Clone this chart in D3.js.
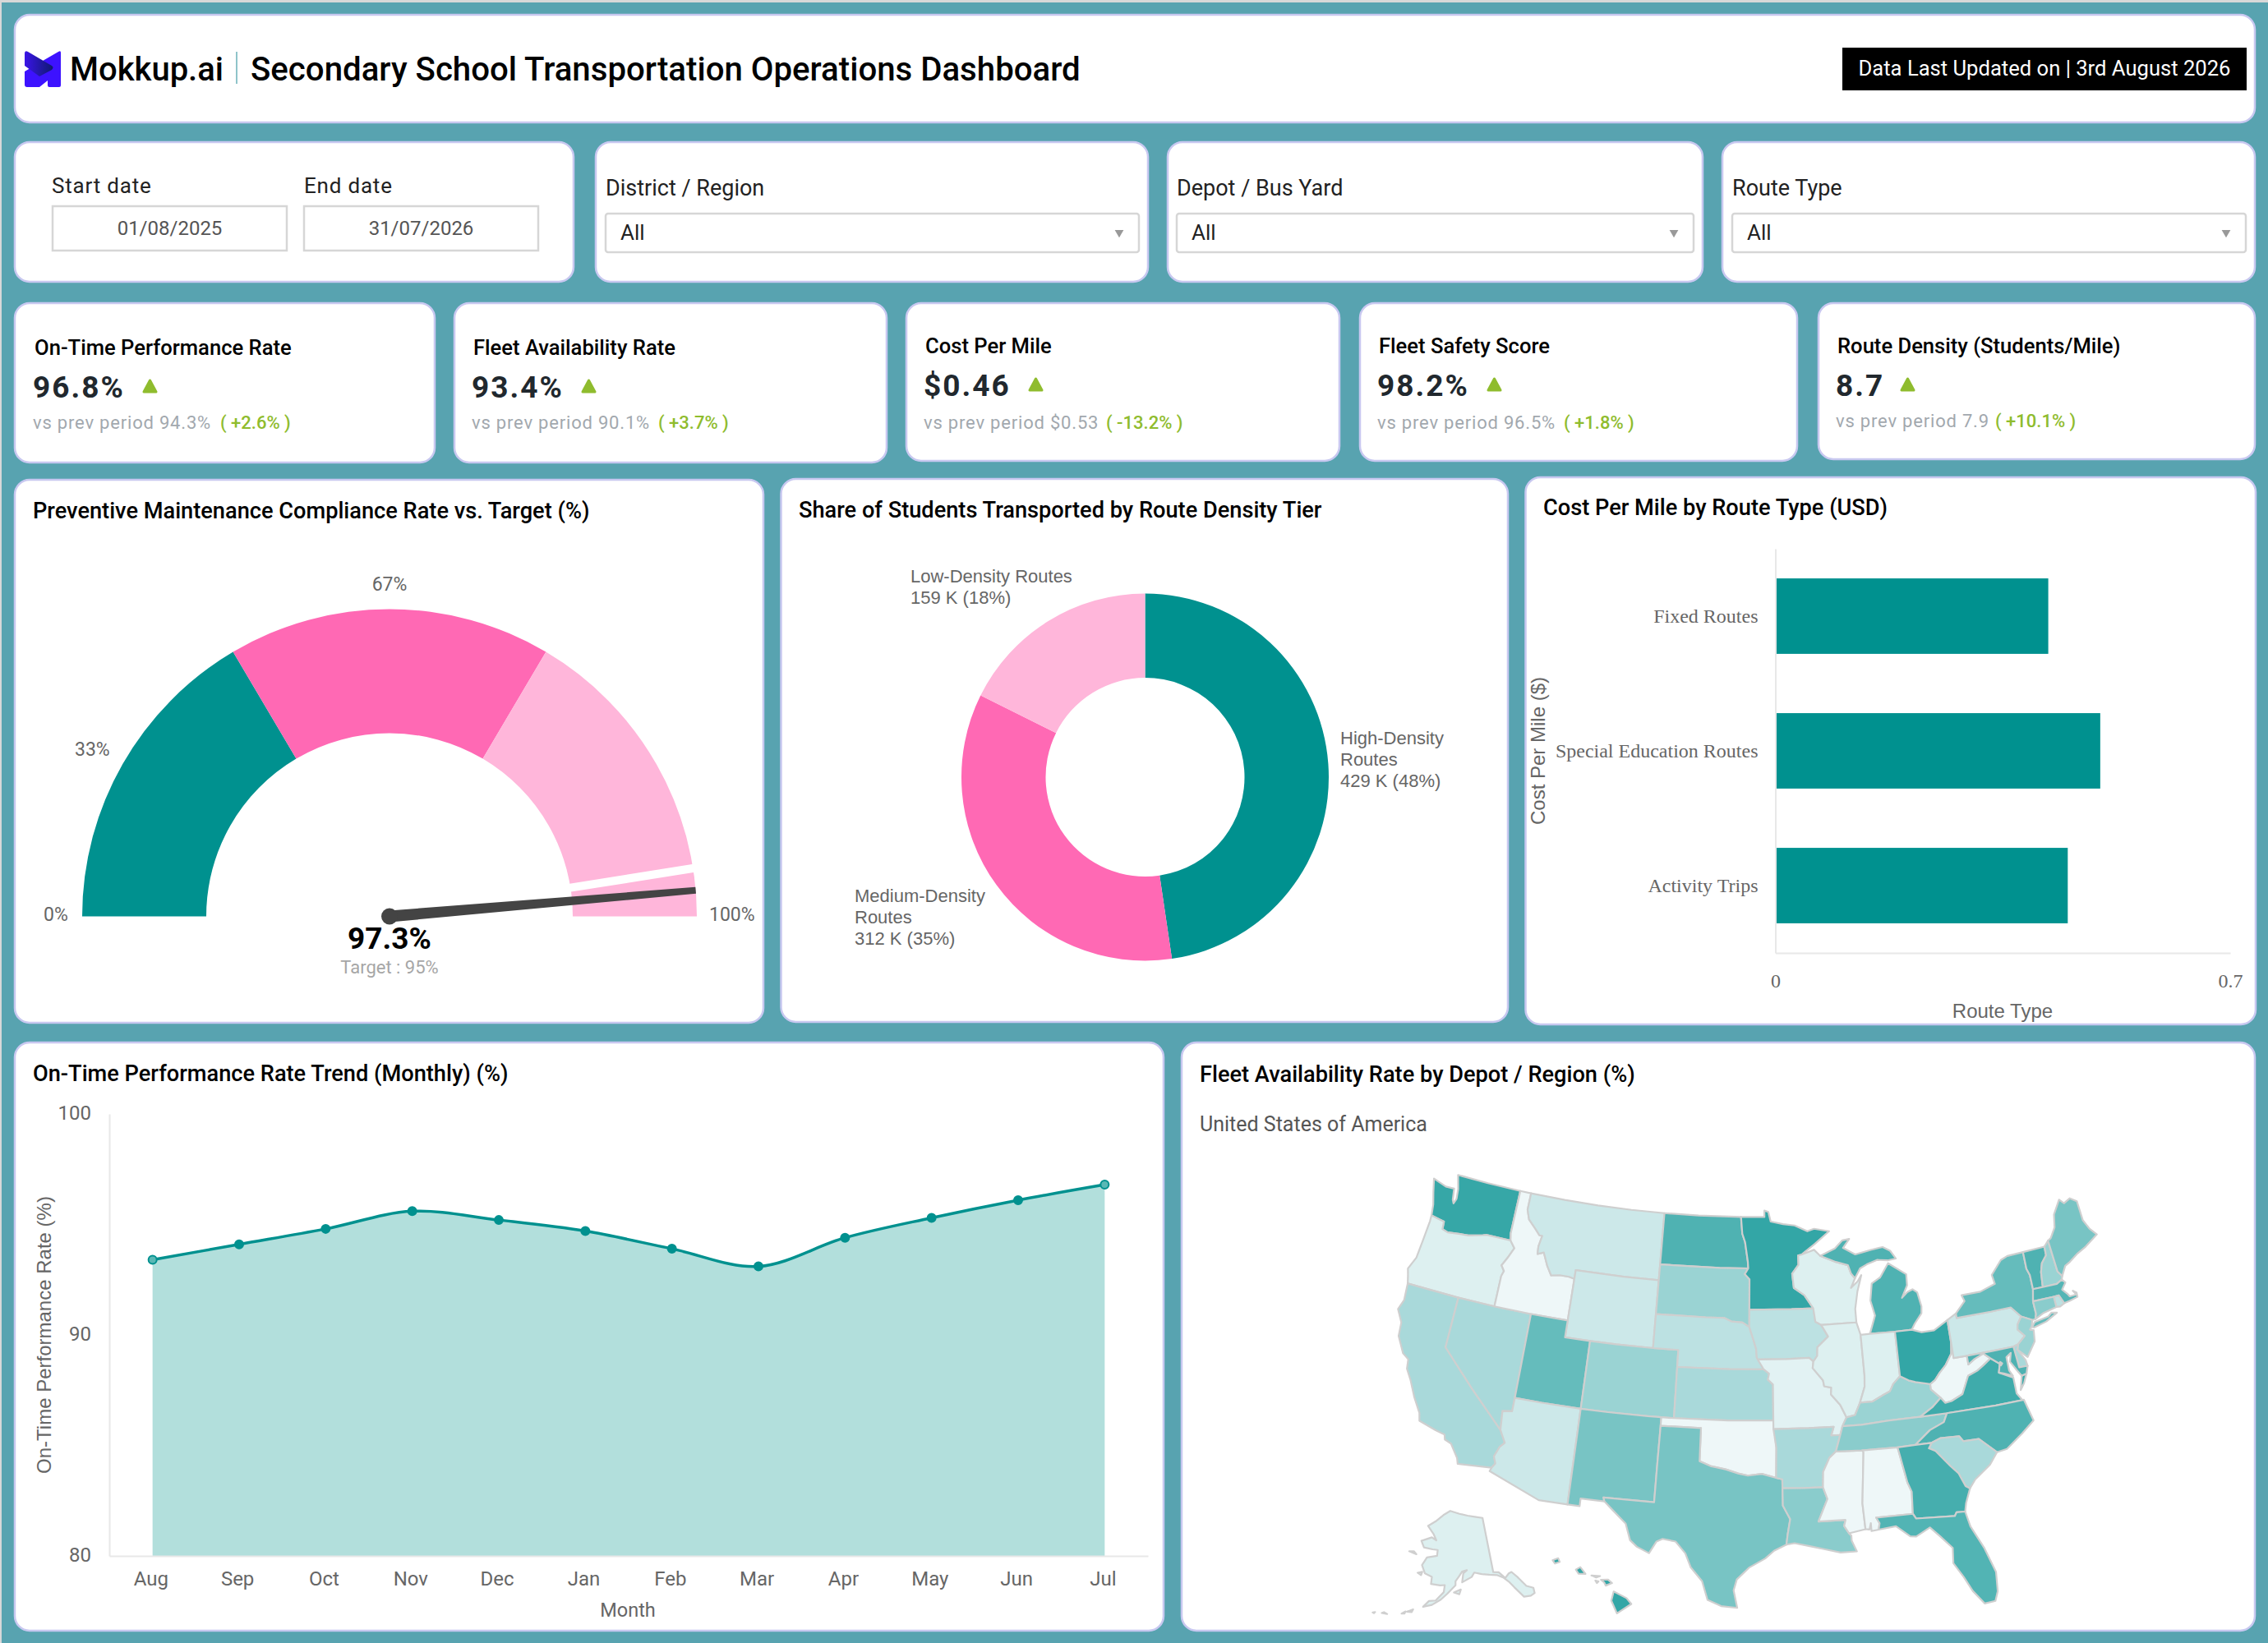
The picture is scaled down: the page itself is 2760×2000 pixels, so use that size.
<!DOCTYPE html>
<html>
<head>
<meta charset="utf-8">
<title>Secondary School Transportation Operations Dashboard</title>
<script src="https://cdn.jsdelivr.net/npm/d3@7/dist/d3.min.js"></script>
<style>
html, body { margin: 0; padding: 0; background: #d8d8d8; }
svg { display: block; }
text { font-family: Roboto, sans-serif; dominant-baseline: central; }
.cardTitle { font-size: 27.2px; font-weight: 500; fill: #000; }
.label { font-family: "Liberation Sans", Arial, sans-serif; font-size: 22px; fill: #666; }
.axisTitle { font-family: "Liberation Sans", Arial, sans-serif; font-size: 24px; fill: #666; }
.axis .domain { stroke: #e8e8e8; stroke-width: 2px; }
.axis text { font-size: 24px; fill: #666; dominant-baseline: auto; }
</style>
</head>
<body>
<svg id="board" width="2760" height="2000"></svg>
<script>
// ---- chart values ----
var filterLabels = ["District / Region", "Depot / Bus Yard", "Route Type"];
var dateLabels = ["Start date", "End date"];
var dateValues = ["01/08/2025", "31/07/2026"];

var kpiTitles = ["On-Time Performance Rate", "Fleet Availability Rate", "Cost Per Mile", "Fleet Safety Score", "Route Density (Students/Mile)"];
var kpiValues = ["96.8%", "93.4%", "$0.46", "98.2%", "8.7"];
var kpiPrev = ["94.3%", "90.1%", "$0.53", "96.5%", "7.9"];
var kpiChange = ["+2.6%", "+3.7%", "-13.2%", "+1.8%", "+10.1%"];

var gaugeBands = [0, 33, 67, 100];
var gaugeTicks = ["0%", "33%", "67%", "100%"];
var gaugeActual = 97.3;
var gaugeTarget = 95;

var densityTiers = ["High-Density Routes", "Medium-Density Routes", "Low-Density Routes"];
var densityStudents = [429, 312, 159];
var densityShares = ["429 K (48%)", "312 K (35%)", "159 K (18%)"];

var routeTypes = ["Fixed Routes", "Special Education Routes", "Activity Trips"];
var routeCost = [0.42, 0.5, 0.45];

var months = ["Aug", "Sep", "Oct", "Nov", "Dec", "Jan", "Feb", "Mar", "Apr", "May", "Jun", "Jul"];
var onTimeRate = [93.4, 94.1, 94.8, 95.6, 95.2, 94.7, 93.9, 93.1, 94.4, 95.3, 96.1, 96.8];

var stateCodes = ["WA", "OR", "CA", "NV", "ID", "MT", "WY", "UT", "AZ", "CO", "NM", "ND", "SD", "NE", "KS", "OK", "TX",
    "MN", "IA", "MO", "AR", "LA", "WI", "IL", "MS", "MI", "IN", "KY", "TN", "AL", "OH", "WV", "VA", "NC", "SC", "GA", "FL",
    "PA", "NY", "VT", "NH", "ME", "MA", "RI", "CT", "NJ", "DE", "MD", "DC", "AK", "HI"];
var stateRates = [95.9, 90.55, 92.2, 92.2, 90.0, 91.1, 91.1, 94.4, 91.1, 92.7, 93.8, 95.1, 92.7, 91.6, 92.2, 90.0, 93.8,
    96.0, 91.6, 90.4, 92.2, 93.2, 90.55, 90.55, 90.0, 95.1, 90.55, 92.7, 93.2, 90.0, 96.0, 90.0, 95.6, 95.1, 92.2, 95.4, 95.0,
    91.1, 94.4, 95.1, 92.7, 93.8, 94.9, 91.6, 93.2, 92.7, 92.2, 95.1, 95.1, 90.55, 96.0];

// lon/lat outlines of the states, one list of rings per state
var stateShapes = {
    WA: [[[-124.7,48.38],[-123.5,48.13],[-122.75,48.15],[-122.6,47.5],[-122.45,47.3],[-122.3,47.6],[-122.4,48.2],[-122.75,49],[-120,49],[-117.03,49],[-117.04,46.42],[-116.92,46],[-118.98,46],[-119.3,45.93],[-120.5,45.7],[-121.2,45.65],[-122.25,45.55],[-122.75,45.65],[-122.8,46.1],[-123.2,46.15],[-123.97,46.25],[-124.1,46.9],[-124.4,47.6]]],
    OR: [[[-123.97,46.25],[-123.2,46.15],[-122.8,46.1],[-122.75,45.65],[-122.25,45.55],[-121.2,45.65],[-120.5,45.7],[-119.3,45.93],[-118.98,46],[-116.92,46],[-116.46,45.6],[-116.85,44.95],[-117.2,44.45],[-116.9,44.15],[-117.03,43.83],[-117.03,42],[-120,42],[-124.21,42],[-124.4,42.5],[-124.55,42.84],[-124.15,43.6],[-124.05,44.7],[-123.95,45.9]]],
    CA: [[[-124.21,42],[-120,42],[-120,39],[-117.3,37],[-114.63,35],[-114.14,34.3],[-114.45,34],[-114.72,33.4],[-114.52,33],[-114.72,32.72],[-117.12,32.53],[-117.25,32.85],[-117.9,33.6],[-118.4,33.75],[-118.5,34.03],[-119.2,34.15],[-120.5,34.45],[-120.65,34.9],[-121.3,35.7],[-121.9,36.6],[-122.4,37.2],[-122.5,37.75],[-123,38],[-123.7,38.9],[-123.8,39.7],[-124.35,40.4],[-124.1,41]]],
    NV: [[[-120,42],[-117.03,42],[-114.04,42],[-114.04,39],[-114.04,37],[-114.05,36.2],[-114.75,36.1],[-114.63,35],[-117.3,37],[-120,39]]],
    ID: [[[-117.03,49],[-116.05,49],[-116.05,48],[-115.75,47.45],[-115,46.95],[-114.6,46.65],[-114.35,46.65],[-114.5,46],[-114.45,45.55],[-113.95,45.7],[-113.45,44.95],[-113,44.45],[-112.3,44.55],[-111.5,44.55],[-111.05,44.48],[-111.05,42],[-114.04,42],[-117.03,42],[-117.03,43.83],[-116.9,44.15],[-117.2,44.45],[-116.85,44.95],[-116.46,45.6],[-116.92,46],[-117.04,46.42]]],
    MT: [[[-116.05,49],[-113,49],[-110,49],[-107,49],[-104.05,49],[-104.05,47],[-104.05,45],[-107,45],[-111.05,45],[-111.05,44.48],[-111.5,44.55],[-112.3,44.55],[-113,44.45],[-113.45,44.95],[-113.95,45.7],[-114.45,45.55],[-114.5,46],[-114.35,46.65],[-114.6,46.65],[-115,46.95],[-115.75,47.45],[-116.05,48]]],
    WY: [[[-111.05,45],[-107,45],[-104.05,45],[-104.05,43],[-104.05,41],[-107,41],[-109.05,41],[-111.05,41],[-111.05,42],[-111.05,44.48]]],
    UT: [[[-114.04,42],[-111.05,42],[-111.05,41],[-109.05,41],[-109.05,39],[-109.05,37],[-112,37],[-114.04,37],[-114.04,39]]],
    AZ: [[[-114.04,37],[-112,37],[-109.05,37],[-109.05,34],[-109.05,31.33],[-111.07,31.33],[-114.81,32.5],[-114.72,32.72],[-114.52,33],[-114.72,33.4],[-114.45,34],[-114.14,34.3],[-114.63,35],[-114.75,36.1],[-114.05,36.2]]],
    CO: [[[-109.05,41],[-107,41],[-104.05,41],[-102.05,41],[-102.05,39],[-102.05,37],[-104,37],[-107,37],[-109.05,37],[-109.05,39]]],
    NM: [[[-109.05,37],[-107,37],[-104,37],[-103,37],[-103,36.5],[-103.04,34],[-103.06,32],[-106.62,32],[-106.53,31.78],[-108.2,31.78],[-108.2,31.33],[-109.05,31.33],[-109.05,34]]],
    ND: [[[-104.05,49],[-101,49],[-97.23,49],[-97.1,48],[-96.85,47.5],[-96.6,46.35],[-96.56,45.94],[-99,45.94],[-104.05,45.94],[-104.05,47]]],
    SD: [[[-104.05,45.94],[-99,45.94],[-96.56,45.94],[-96.85,45.6],[-96.45,45.3],[-96.45,43.5],[-96.45,42.49],[-97,42.75],[-97.9,42.8],[-98.5,43],[-100,43],[-104.05,43],[-104.05,45]]],
    NE: [[[-104.05,43],[-100,43],[-98.5,43],[-97.9,42.8],[-97,42.75],[-96.45,42.49],[-96.1,41.7],[-95.9,41.2],[-95.85,40.7],[-95.31,40],[-98,40],[-102.05,40],[-102.05,41],[-104.05,41]]],
    KS: [[[-102.05,40],[-98,40],[-95.31,40],[-94.9,39.75],[-95,39.4],[-94.61,39.11],[-94.62,37],[-98,37],[-102.05,37],[-102.05,39]]],
    OK: [[[-103,37],[-102.05,37],[-98,37],[-94.62,37],[-94.43,35.4],[-94.48,33.64],[-95.5,33.88],[-96.5,33.78],[-97.2,33.9],[-98.1,34.13],[-99.2,34.3],[-100,34.56],[-100,36.5],[-103,36.5]]],
    TX: [[[-103,36.5],[-100,36.5],[-100,34.56],[-99.2,34.3],[-98.1,34.13],[-97.2,33.9],[-96.5,33.78],[-95.5,33.88],[-94.48,33.64],[-94.04,33.55],[-94.04,33.02],[-94.04,32],[-93.55,31.2],[-93.75,30.3],[-93.85,29.7],[-94.7,29.35],[-95.3,28.9],[-96.4,28.35],[-97.2,27.65],[-97.4,27],[-97.15,25.96],[-98.2,26.05],[-99.1,26.4],[-99.5,27.5],[-100.3,28.3],[-100.7,29.1],[-101.4,29.77],[-102.3,29.88],[-102.7,29.7],[-103.15,28.98],[-104,29.3],[-104.5,29.65],[-104.9,30.6],[-106,31.4],[-106.53,31.78],[-106.62,32],[-103.06,32],[-103.04,34]]],
    MN: [[[-97.23,49],[-95.15,49],[-95.15,49.38],[-94.8,49.3],[-94.6,48.72],[-93.5,48.55],[-92.5,48.45],[-91.4,48.07],[-90.8,48.2],[-89.5,48],[-90.8,47.3],[-92,46.7],[-92.29,46.66],[-92.29,46.1],[-92.85,45.6],[-92.75,44.75],[-91.9,44.3],[-91.22,43.5],[-93,43.5],[-96.45,43.5],[-96.45,45.3],[-96.85,45.6],[-96.56,45.94],[-96.6,46.35],[-96.85,47.5],[-97.1,48]]],
    IA: [[[-96.45,43.5],[-93,43.5],[-91.22,43.5],[-91.1,42.7],[-90.65,42.5],[-90.15,41.8],[-91.05,41.2],[-91.1,40.7],[-91.42,40.38],[-91.73,40.61],[-93.5,40.58],[-95.77,40.58],[-95.85,40.7],[-95.9,41.2],[-96.1,41.7],[-96.45,42.49]]],
    MO: [[[-95.77,40.58],[-93.5,40.58],[-91.73,40.61],[-91.42,40.38],[-91.5,40],[-90.75,39.25],[-90.68,38.9],[-90.15,38.8],[-90.2,38.4],[-89.55,37.75],[-89.15,37],[-89.5,36.5],[-89.7,36],[-90.37,36],[-90.15,36.5],[-92,36.5],[-94.62,36.5],[-94.62,37],[-94.61,39.11],[-95,39.4],[-94.9,39.75],[-95.31,40]]],
    AR: [[[-94.62,36.5],[-92,36.5],[-90.15,36.5],[-90.37,36],[-89.7,36],[-90.1,35.05],[-90.6,34.7],[-91.1,33.9],[-91.17,33],[-92.5,33],[-94.04,33.02],[-94.04,33.55],[-94.48,33.64],[-94.43,35.4]]],
    LA: [[[-94.04,33.02],[-92.5,33],[-91.17,33],[-90.9,32.3],[-91.6,31],[-89.73,31],[-89.85,30.65],[-89.55,30.2],[-89.4,30.05],[-89.4,29.75],[-89.1,29.1],[-90.2,29.1],[-91.3,29.35],[-92.2,29.55],[-93.3,29.77],[-93.85,29.7],[-93.75,30.3],[-93.55,31.2],[-94.04,32]]],
    WI: [[[-92.29,46.66],[-92,46.7],[-90.9,46.95],[-90.4,46.57],[-89.1,46.15],[-88.1,45.9],[-87.9,45.4],[-87.6,45.1],[-88,44.55],[-87.4,44.9],[-87.05,45.25],[-87.5,44.3],[-87.8,43.3],[-87.8,42.5],[-90.65,42.5],[-91.1,42.7],[-91.22,43.5],[-91.9,44.3],[-92.75,44.75],[-92.85,45.6],[-92.29,46.1]]],
    IL: [[[-90.65,42.5],[-87.8,42.5],[-87.55,41.75],[-87.53,39.35],[-87.6,38.7],[-88.05,37.8],[-88.5,37.1],[-89.15,37],[-89.55,37.75],[-90.2,38.4],[-90.15,38.8],[-90.68,38.9],[-90.75,39.25],[-91.5,40],[-91.42,40.38],[-91.1,40.7],[-91.05,41.2],[-90.15,41.8]]],
    MS: [[[-90.1,35.05],[-88.2,35],[-88.1,34.9],[-88.47,31.9],[-88.4,30.37],[-89.55,30.2],[-89.85,30.65],[-89.73,31],[-91.6,31],[-90.9,32.3],[-91.17,33],[-91.1,33.9],[-90.6,34.7]]],
    MI: [[[-86.8,41.76],[-84.8,41.73],[-83.45,41.72],[-83.15,42.05],[-82.5,42.6],[-82.42,43],[-82.6,43.85],[-82.95,44.07],[-83.4,43.95],[-83.9,43.65],[-83.35,44.35],[-83.3,45],[-84.7,45.78],[-85.5,45],[-86.25,44.7],[-86.5,43.7],[-86.25,42.8]],
        [[-90.4,46.57],[-89.1,46.95],[-88.4,47.4],[-87.8,47.45],[-88.4,46.95],[-87.4,46.5],[-86.1,46.67],[-85,46.77],[-84.4,46.5],[-84,46],[-84.7,45.95],[-85.6,46.05],[-86.5,45.85],[-87.1,45.65],[-87.6,45.1],[-87.9,45.4],[-88.1,45.9],[-89.1,46.15]]],
    IN: [[[-87.55,41.75],[-86.8,41.76],[-84.8,41.73],[-84.82,39.1],[-85.4,38.7],[-85.7,38.3],[-86.3,38.1],[-87.1,37.8],[-88.05,37.8],[-87.6,38.7],[-87.53,39.35]]],
    KY: [[[-89.5,36.5],[-89.15,37],[-88.5,37.1],[-88.05,37.8],[-87.1,37.8],[-86.3,38.1],[-85.7,38.3],[-85.4,38.7],[-84.82,39.1],[-84.2,38.8],[-83.7,38.65],[-82.6,38.42],[-82.6,38.1],[-81.97,37.54],[-82.7,37.05],[-83.68,36.6],[-86,36.6],[-88.07,36.5]]],
    TN: [[[-89.5,36.5],[-88.07,36.5],[-86,36.6],[-83.68,36.6],[-81.68,36.59],[-82,36.1],[-83.1,35.75],[-84.3,35],[-85.6,34.98],[-88.2,35],[-90.1,35.05],[-89.7,36]]],
    AL: [[[-88.2,35],[-85.6,34.98],[-85.18,32.87],[-84.95,32.3],[-85.05,31],[-87.6,31],[-87.4,30.65],[-87.5,30.28],[-88,30.23],[-88,30.7],[-88.13,30.33],[-88.4,30.37],[-88.47,31.9],[-88.1,34.9]]],
    OH: [[[-84.8,41.73],[-83.45,41.72],[-82.7,41.5],[-81.7,41.5],[-80.52,41.98],[-80.52,40.64],[-80.65,40],[-81.2,39.4],[-81.75,39],[-82.2,38.6],[-82.6,38.42],[-83.7,38.65],[-84.2,38.8],[-84.82,39.1]]],
    WV: [[[-80.52,40.64],[-80.52,39.72],[-79.48,39.72],[-79.48,39.2],[-78.95,39.45],[-78.2,39.68],[-77.72,39.32],[-78.35,39],[-78.9,38.75],[-79.65,38.55],[-80.3,37.55],[-81.2,37.25],[-81.68,37.2],[-81.97,37.54],[-82.6,38.1],[-82.6,38.42],[-82.2,38.6],[-81.75,39],[-81.2,39.4],[-80.65,40]]],
    VA: [[[-83.68,36.6],[-82.7,37.05],[-81.97,37.54],[-81.68,37.2],[-81.2,37.25],[-80.3,37.55],[-79.65,38.55],[-78.9,38.75],[-78.35,39],[-77.72,39.32],[-77.1,38.9],[-77.3,38.4],[-76.3,37.95],[-76.3,37],[-75.98,36.55],[-78,36.55],[-81.68,36.59]],
        [[-75.95,37.15],[-75.65,37.95],[-75.25,38.03],[-75.6,37.5]]],
    NC: [[[-84.3,35],[-83.1,35.75],[-82,36.1],[-81.68,36.59],[-78,36.55],[-75.87,36.55],[-75.5,35.25],[-76.5,34.65],[-77.8,33.93],[-78.55,33.85],[-79.67,34.8],[-80.8,34.82],[-81.05,35.15],[-82.4,35.2],[-83.1,35]]],
    SC: [[[-83.1,35],[-82.4,35.2],[-81.05,35.15],[-80.8,34.82],[-79.67,34.8],[-78.55,33.85],[-79.2,33.2],[-80.4,32.5],[-80.87,32.03],[-81.15,32.2],[-81.5,33],[-82,33.5],[-82.9,34.5],[-83.35,34.7]]],
    GA: [[[-85.6,34.98],[-84.3,35],[-83.1,35],[-83.35,34.7],[-82.9,34.5],[-82,33.5],[-81.5,33],[-81.15,32.2],[-80.87,32.03],[-81.3,31.2],[-81.45,30.72],[-82.05,30.75],[-82.2,30.55],[-84.86,30.7],[-85.05,31],[-84.95,32.3],[-85.18,32.87]]],
    FL: [[[-87.6,31],[-85.05,31],[-84.86,30.7],[-82.2,30.55],[-82.05,30.75],[-81.45,30.72],[-81.25,29.8],[-80.55,28.4],[-80.05,26.9],[-80.15,25.75],[-80.4,25.2],[-81.1,25.15],[-81.75,26],[-82.2,26.9],[-82.75,27.8],[-82.65,28.7],[-83.4,29.5],[-84,30.08],[-85,29.65],[-85.4,29.7],[-86.3,30.38],[-87.5,30.28],[-87.4,30.65]]],
    PA: [[[-80.52,41.98],[-79.76,42.27],[-79.76,42],[-77,42],[-75.35,42],[-74.7,41.35],[-75.1,40.95],[-75.2,40.65],[-74.75,40.2],[-75.4,39.8],[-75.8,39.72],[-77.5,39.72],[-79.48,39.72],[-80.52,39.72],[-80.52,40.64]]],
    NY: [[[-79.76,42.27],[-78.9,42.9],[-79.05,43.27],[-77.5,43.27],[-76.2,43.55],[-76.3,44.1],[-75.3,44.85],[-74.7,45],[-73.35,45.01],[-73.4,44],[-73.25,43.6],[-73.27,42.75],[-73.5,42.05],[-73.5,41.3],[-73.65,41],[-73.9,41],[-74.7,41.35],[-75.35,42],[-77,42],[-79.76,42]],
        [[-74.03,40.6],[-73.75,40.85],[-72.6,40.98],[-72.3,41.15],[-71.87,41.07],[-72.85,40.72],[-73.9,40.55]]],
    VT: [[[-73.35,45.01],[-71.5,45.01],[-71.55,44.5],[-72.05,44.1],[-72.3,43.6],[-72.46,42.73],[-73.27,42.75],[-73.25,43.6],[-73.4,44]]],
    NH: [[[-71.5,45.01],[-71.08,45.3],[-70.98,43.4],[-70.7,43.07],[-70.82,42.87],[-71.3,42.7],[-72.46,42.73],[-72.3,43.6],[-72.05,44.1],[-71.55,44.5]]],
    ME: [[[-71.08,45.3],[-70.8,45.4],[-70.25,45.95],[-70,46.7],[-69.23,47.46],[-68.9,47.18],[-68.3,47.36],[-67.79,47.07],[-67.78,45.9],[-67.45,45.3],[-67,44.85],[-68.2,44.35],[-69,44.1],[-69.8,43.75],[-70.25,43.6],[-70.7,43.07],[-70.98,43.4]]],
    MA: [[[-73.5,42.05],[-73.27,42.75],[-72.46,42.73],[-71.3,42.7],[-70.82,42.87],[-70.6,42.65],[-71,42.3],[-70.65,41.95],[-70.55,41.8],[-70,41.8],[-70.2,42.07],[-69.95,41.9],[-69.97,41.65],[-70.65,41.55],[-71.12,41.5],[-71.38,42.02],[-71.8,42.02]]],
    RI: [[[-71.8,42.02],[-71.38,42.02],[-71.12,41.5],[-71.5,41.37],[-71.8,41.4]]],
    CT: [[[-73.5,42.05],[-71.8,42.02],[-71.8,41.4],[-72.9,41.25],[-73.65,41],[-73.5,41.3]]],
    NJ: [[[-74.7,41.35],[-73.9,41],[-74.05,40.65],[-74.25,40.48],[-73.98,40.4],[-74.1,39.75],[-74.9,38.95],[-75.55,39.5],[-75.4,39.8],[-74.75,40.2],[-75.2,40.65],[-75.1,40.95]]],
    DE: [[[-75.8,39.72],[-75.4,39.8],[-75.55,39.5],[-75.1,38.8],[-75.05,38.45],[-75.7,38.46]]],
    MD: [[[-79.48,39.72],[-77.5,39.72],[-75.8,39.72],[-75.7,38.46],[-75.05,38.45],[-75.25,38.03],[-75.65,37.95],[-75.9,38.3],[-76.3,38.9],[-76.1,39.4],[-76.5,39.2],[-76.5,38.4],[-76.3,38.05],[-76.95,38.3],[-77.3,38.4],[-77.1,38.9],[-77.72,39.32],[-78.2,39.68],[-78.95,39.45],[-79.48,39.2]]],
    DC: [[[-77.12,38.93],[-77.04,39],[-76.91,38.89],[-77.04,38.79]]],
    AK: [[[-141,69.65],[-141,60.3],[-139.2,60.1],[-137.5,58.9],[-136,59.5],[-135,59.6],[-133.5,58.4],[-131.8,56.6],[-130,55.9],[-130.2,55],[-131.5,54.8],[-133.5,55],[-135.5,57],[-136.5,58],[-138,59],[-140,59.7],[-142.5,60],[-145,60.3],[-147.5,60.7],[-148.5,60],[-151.8,59.2],[-151.3,60.7],[-150,61.2],[-151.7,61],[-152.8,60.2],[-154,59.4],[-154,58.7],[-156.5,57.3],[-158.5,56.2],[-161,55.2],[-163.5,54.7],[-162,55.8],[-160,56],[-157.7,57.5],[-157.5,58.7],[-159,58.6],[-162,58.7],[-162,59.9],[-164.5,60.3],[-166,61.6],[-164.7,63],[-161,63.5],[-161,64.5],[-163,64.5],[-166.5,64.6],[-168,65.6],[-164,66.5],[-162,66.1],[-163.5,67.1],[-166.5,68.3],[-163,69.4],[-160,70.5],[-156.7,71.3],[-152,70.8],[-148,70.4],[-144,70]],
        [[-154.5,57.5],[-152.3,58],[-152.8,57.2]],
        [[-167.8,53.4],[-166.2,54],[-166.5,53.5]],
        [[-169.2,52.9],[-168.2,53.4],[-168.4,53]],
        [[-174.5,52.1],[-173,52.2],[-174,52.35]],
        [[-176.9,51.7],[-176.3,51.9],[-176.5,51.65]],
        [[-171.7,63.4],[-168.8,63.2],[-170,63.6]],
        [[-167,60.2],[-165.5,60.5],[-165.7,59.9]]],
    HI: [[[-155.9,20.25],[-155.1,19.85],[-154.8,19.5],[-155.7,18.95],[-156.05,19.7]],
        [[-156.7,20.95],[-156.25,20.95],[-156,20.75],[-156.4,20.6],[-156.5,20.8]],
        [[-157.3,21.2],[-156.75,21.17],[-157,21.08]],
        [[-157.05,20.9],[-156.85,20.85],[-156.95,20.75]],
        [[-158.28,21.55],[-158,21.7],[-157.67,21.3],[-158.1,21.3]],
        [[-159.75,22.1],[-159.4,22.22],[-159.3,22],[-159.6,21.9]]]
};

// ---- colours ----
var teal = "#00918f", hotPink = "#ff69b4", softPink = "#ffb6da", kpiGreen = "#8fbc2e";

var svg = d3.select("#board");

function drawText(parent, x, y, str, cls) {
    return parent.append("text").attr("x", x).attr("y", y).attr("class", cls || null).text(str);
}

function drawCard(x0, y0, x1, y1) {
    svg.append("rect").attr("x", x0).attr("y", y0).attr("width", x1 - x0).attr("height", y1 - y0)
        .attr("rx", 18).attr("fill", "#fff").attr("stroke", "#c8c8f0").attr("stroke-width", 2.5);
}

// page background, the reference leaves a thin grey edge at top and left
svg.append("rect").attr("x", 2).attr("y", 3).attr("width", 2758).attr("height", 1997).attr("fill", "#58a3b0");

// ---- header ----
drawCard(18, 18, 2744, 149);
var logoGrad = svg.append("defs").append("linearGradient").attr("id", "logoDark");
logoGrad.append("stop").attr("offset", "0").attr("stop-color", "#3a14e8");
logoGrad.append("stop").attr("offset", "1").attr("stop-color", "#0f1a6e");
svg.append("path").attr("fill", "#3d12ff").attr("d", "M30 87L30 103Q30 106 33 106L48 106L58 98L58 104Q58 106 60 106L72 106Q74 106 74 104L74 64Q74 61 71 63L52 74Z");
svg.append("path").attr("fill", "url(#logoDark)").attr("d", "M30 65Q30 61 34 63L63 80Q66 82 63 85L48 93L30 80Z");
drawText(svg, 85, 84, "Mokkup.ai").attr("font-size", 40).attr("font-weight", 500).attr("fill", "#000");
svg.append("line").attr("x1", 288).attr("x2", 288).attr("y1", 63).attr("y2", 102).attr("stroke", "#6ab0b8").attr("stroke-width", 1.5);
drawText(svg, 305, 84, "Secondary School Transportation Operations Dashboard").attr("font-size", 40.2).attr("font-weight", 500).attr("fill", "#000");
svg.append("rect").attr("x", 2242).attr("y", 58).attr("width", 492).attr("height", 52).attr("fill", "#000");
drawText(svg, 2488, 83, "Data Last Updated on | 3rd August 2026").attr("font-size", 25.6).attr("fill", "#fff").attr("text-anchor", "middle");

// ---- filters ----
drawCard(18, 173, 698, 343);
var dateBoxes = [64, 370];
dateLabels.forEach(function(d, i) {
    var x = dateBoxes[i];
    drawText(svg, i ? x : x - 1, 226, d).attr("font-size", 26).attr("letter-spacing", 0.8).attr("fill", "#222");
    svg.append("rect").attr("x", x).attr("y", 251).attr("width", 285).attr("height", 54)
        .attr("fill", "#fff").attr("stroke", "#d6d6d6").attr("stroke-width", 2.5);
    drawText(svg, x + 142.5, 278, dateValues[i]).attr("font-size", 24).attr("fill", "#555").attr("text-anchor", "middle");
});

var filterCards = [[725, 1397, 737, 1386], [1421, 2072, 1432, 2061], [2096, 2744, 2108, 2733]];
filterLabels.forEach(function(d, i) {
    var c = filterCards[i];
    drawCard(c[0], 173, c[1], 343);
    drawText(svg, c[2], 229, d).attr("font-size", 27).attr("fill", "#222");
    svg.append("rect").attr("x", c[2]).attr("y", 260).attr("width", c[3] - c[2]).attr("height", 47).attr("rx", 3)
        .attr("fill", "#fff").attr("stroke", "#d6d6d6").attr("stroke-width", 2.5);
    drawText(svg, c[2] + 18, 283, "All").attr("font-size", 26).attr("fill", "#222");
    svg.append("path").attr("fill", "#999")
        .attr("d", d3.symbol().type(d3.symbolTriangle).size(50))
        .attr("transform", "translate(" + (c[3] - 24) + ",283) rotate(180)");
});

// ---- KPI cards ----
var kpiCards = [
    {x0: 18, x1: 529, y1: 563, tx: 42, dy: 0, tri: 173, gx: 268},
    {x0: 553, x1: 1079, y1: 563, tx: 576, dy: 0, tri: 707, gx: 801},
    {x0: 1103, x1: 1630, y1: 561, tx: 1126, dy: -2, tri: 1251, gx: 1346},
    {x0: 1655, x1: 2187, y1: 561, tx: 1678, dy: -2, tri: 1809, gx: 1903},
    {x0: 2213, x1: 2744, y1: 559, tx: 2236, dy: -2, tri: 2312, gx: 2428}
];
kpiTitles.forEach(function(d, i) {
    var c = kpiCards[i];
    drawCard(c.x0, 369, c.x1, c.y1);
    drawText(svg, c.tx, 422.5 + c.dy, d).attr("font-size", 25.6).attr("font-weight", 500).attr("fill", "#000");
    drawText(svg, c.tx - 2, 471 + c.dy, kpiValues[i]).attr("font-size", 37).attr("font-weight", 700)
        .attr("letter-spacing", 2).attr("fill", "#21282e");
    svg.append("path").attr("fill", kpiGreen).attr("stroke", kpiGreen).attr("stroke-width", 3).attr("stroke-linejoin", "round")
        .attr("d", "M" + (c.tri + 2) + " " + (477 + c.dy) + "H" + (c.tri + 17) + "L" + (c.tri + 9.5) + " " + (463 + c.dy) + "Z");
    var subY = i === 4 ? 512.5 : 514.5;
    drawText(svg, c.tx - 2, subY, "vs prev period " + kpiPrev[i]).attr("font-size", 22).attr("letter-spacing", 0.8).attr("fill", "#a2a8ae");
    drawText(svg, c.gx, subY, "( " + kpiChange[i] + " )").attr("font-size", 22).attr("font-weight", 500).attr("fill", kpiGreen);
});

// ---- gauge ----
drawCard(18, 584, 929, 1245);
drawText(svg, 40, 622, "Preventive Maintenance Compliance Rate vs. Target (%)", "cardTitle");

var gaugeG = svg.append("g").attr("transform", "translate(474,1115.5)");
var gaugeAngle = d3.scaleLinear().domain([0, 100]).range([-Math.PI / 2, Math.PI / 2]);
var gaugeArc = d3.arc().innerRadius(223).outerRadius(374);
var gaugeColors = [teal, hotPink, softPink];
gaugeBands.slice(1).forEach(function(d, i) {
    gaugeG.append("path").attr("fill", gaugeColors[i])
        .attr("d", gaugeArc({startAngle: gaugeAngle(gaugeBands[i]), endAngle: gaugeAngle(d)}));
});

// white target mark across the band
var targetAngle = gaugeAngle(gaugeTarget);
gaugeG.append("line").attr("stroke", "#fff").attr("stroke-width", 10)
    .attr("x1", 218 * Math.sin(targetAngle)).attr("y1", -218 * Math.cos(targetAngle))
    .attr("x2", 380 * Math.sin(targetAngle)).attr("y2", -380 * Math.cos(targetAngle));

// needle, tapered
var needleAngle = gaugeAngle(gaugeActual);
var nx = Math.sin(needleAngle), ny = -Math.cos(needleAngle);
gaugeG.append("path").attr("fill", "#444")
    .attr("d", d3.line()([[-ny * 7, nx * 7], [374 * nx - ny * 4, 374 * ny + nx * 4], [374 * nx + ny * 4, 374 * ny - nx * 4], [ny * 7, -nx * 7]]) + "Z");
gaugeG.append("circle").attr("r", 10).attr("fill", "#444");

var gaugeTickPos = [[53, 1113, "start"], [91, 912, "start"], [474, 711, "middle"], [863, 1113, "start"]];
gaugeTicks.forEach(function(d, i) {
    var p = gaugeTickPos[i];
    drawText(svg, p[0], p[1], d).attr("font-size", 23).attr("fill", "#666").attr("text-anchor", p[2]);
});
drawText(svg, 474, 1142, gaugeActual + "%").attr("font-size", 37).attr("font-weight", 700).attr("fill", "#000").attr("text-anchor", "middle");
drawText(svg, 474, 1177, "Target : " + gaugeTarget + "%").attr("font-size", 22).attr("fill", "#a6a6a6").attr("text-anchor", "middle");

// ---- donut ----
drawCard(950.5, 583, 1835, 1244);
drawText(svg, 972, 621, "Share of Students Transported by Route Density Tier", "cardTitle");

var donutG = svg.append("g").attr("transform", "translate(1393.5,946)");
var donutColors = [teal, hotPink, softPink];
var donutArc = d3.arc().innerRadius(121).outerRadius(223.5);
var donutPie = d3.pie().sort(null)(densityStudents);
donutG.selectAll("path").data(donutPie).enter().append("path")
    .attr("d", donutArc).attr("fill", function(d, i) { return donutColors[i]; });

var donutLabelPos = [[1631, 898, ["High-Density", "Routes"]], [1040, 1090.5, ["Medium-Density", "Routes"]], [1108, 701, ["Low-Density Routes"]]];
densityTiers.forEach(function(d, i) {
    var p = donutLabelPos[i];
    p[2].concat([densityShares[i]]).forEach(function(line, j) {
        drawText(svg, p[0], p[1] + j * 26, line, "label");
    });
});

// ---- cost bars ----
drawCard(1856.5, 581, 2745, 1247);
drawText(svg, 1878, 618, "Cost Per Mile by Route Type (USD)", "cardTitle");

var costX = d3.scaleLinear().domain([0, 0.7]).range([2160.5, 2714]);
var costY = d3.scaleBand().domain(routeTypes).range([668, 1160]).paddingInner(0.44).paddingOuter(0.22);
svg.selectAll(".costBar").data(routeCost).enter().append("rect").attr("class", "costBar")
    .attr("x", costX(0)).attr("y", function(d, i) { return costY(routeTypes[i]); })
    .attr("width", function(d) { return costX(d) - costX(0); }).attr("height", costY.bandwidth())
    .attr("fill", teal);

var costLeft = svg.append("g").attr("class", "axis").attr("transform", "translate(2160.5,0)")
    .call(d3.axisLeft(costY).tickSize(0).tickPadding(21));
costLeft.selectAll("text").style("font-family", "'Liberation Serif', serif");
var costBottom = svg.append("g").attr("class", "axis").attr("transform", "translate(0,1160)")
    .call(d3.axisBottom(costX).tickValues([0, 0.7]).tickFormat(d3.format("")).tickSize(0).tickPadding(25));
costBottom.selectAll("text").style("font-family", "'Liberation Serif', serif");
drawText(svg, 2437, 1230, "Route Type", "axisTitle").attr("text-anchor", "middle");
drawText(svg, 0, 0, "Cost Per Mile ($)", "axisTitle").attr("text-anchor", "middle")
    .attr("transform", "translate(1871,914) rotate(-90)");

// ---- on-time trend ----
drawCard(18, 1269, 1416, 1985);
drawText(svg, 40, 1307, "On-Time Performance Rate Trend (Monthly) (%)", "cardTitle");

var trendX = d3.scalePoint().domain(months).range([133, 1397]).padding(0.5);
var trendY = d3.scaleLinear().domain([80, 100]).range([1894, 1356]);
var trendCurve = d3.curveCatmullRom.alpha(0.5);

svg.append("path").datum(onTimeRate).attr("fill", "#b2dfdc")
    .attr("d", d3.area().curve(trendCurve)
        .x(function(d, i) { return trendX(months[i]); }).y0(trendY(80)).y1(function(d) { return trendY(d); }));

var trendLeft = svg.append("g").attr("class", "axis").attr("transform", "translate(133,0)")
    .call(d3.axisLeft(trendY).tickValues([80, 90, 100]).tickSize(0).tickPadding(22));
trendLeft.selectAll("text").attr("dy", "0.26em");
var trendBottom = svg.append("g").attr("class", "axis").attr("transform", "translate(0,1894)")
    .call(d3.axisBottom(trendX).tickSize(0).tickPadding(19));
trendBottom.selectAll("text").attr("dx", "-0.1em");

svg.append("path").datum(onTimeRate).attr("fill", "none").attr("stroke", teal).attr("stroke-width", 3.5)
    .attr("d", d3.line().curve(trendCurve)
        .x(function(d, i) { return trendX(months[i]); }).y(function(d) { return trendY(d); }));
svg.selectAll(".trendDot").data(onTimeRate).enter().append("circle").attr("class", "trendDot")
    .attr("cx", function(d, i) { return trendX(months[i]); }).attr("cy", function(d) { return trendY(d); })
    .attr("r", 5).attr("fill", function(d, i) { return (i === 0 || i === months.length - 1) ? "#5ab8b5" : teal; })
    .attr("stroke", teal).attr("stroke-width", 2);

drawText(svg, 764, 1960, "Month").attr("font-size", 23.5).attr("fill", "#666").attr("text-anchor", "middle");
drawText(svg, 0, 0, "On-Time Performance Rate (%)", "axisTitle").attr("text-anchor", "middle")
    .attr("transform", "translate(53,1625) rotate(-90)");

// ---- state map ----
drawCard(1438, 1269, 2744, 1985);
drawText(svg, 1460, 1308, "Fleet Availability Rate by Depot / Region (%)", "cardTitle");
drawText(svg, 1460, 1368, "United States of America").attr("font-size", 25).attr("fill", "#555");

var projection = d3.geoAlbersUsa().scale(1180).translate([2126, 1694]);
var geoPath = d3.geoPath(projection);
var rateColor = d3.scaleLinear().domain([90, 96]).range(["#eef7f8", "#33a6a6"]);

// rings have to wind the spherical way round, or d3 fills the whole globe
function windRing(ring) {
    var closed = ring.concat([ring[0]]);
    var area = d3.geoArea({type: "Polygon", coordinates: [closed]});
    return area > 2 * Math.PI ? closed.reverse() : closed;
}
var stateFeatures = stateCodes.map(function(code, i) {
    return {
        type: "Feature",
        rate: stateRates[i],
        geometry: {type: "MultiPolygon", coordinates: stateShapes[code].map(function(r) { return [windRing(r)]; })}
    };
});
svg.append("g").selectAll("path").data(stateFeatures).enter().append("path")
    .attr("d", geoPath)
    .attr("fill", function(d) { return rateColor(d.rate); })
    .attr("stroke", "#cfcfcf").attr("stroke-width", 2.2).attr("stroke-linejoin", "round");
</script>
</body>
</html>
